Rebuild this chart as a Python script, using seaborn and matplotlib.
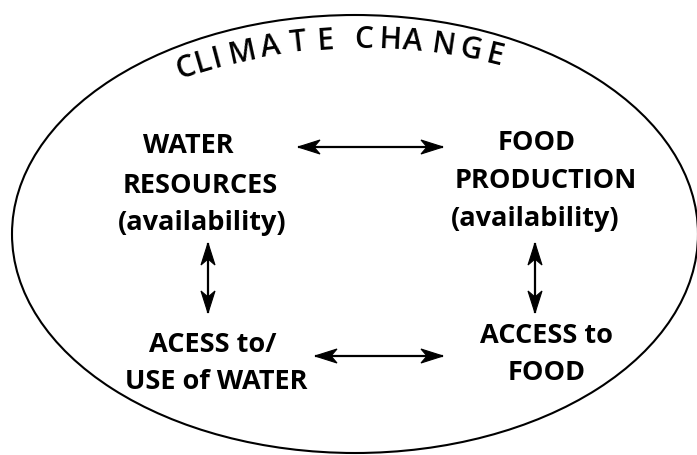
import numpy as np
import matplotlib
matplotlib.use("Agg")
import matplotlib.pyplot as plt
from matplotlib.patches import Ellipse, Polygon
import seaborn as sns

# ---- diagram content ----
title = "CLIMATE CHANGE"
# angle of each title letter around the arc (deg from vertical)
title_angles = [-18.2, -16.4, -14.9, -12.3, -9.3, -6.4, -3.7,
                0.3, 2.9, 5.3, 8.4, 11.2, 13.7]

node_lines = [
    ["WATER", "RESOURCES", "(availability)"],
    ["FOOD", "PRODUCTION", "(availability)"],
    ["ACESS to/", "USE of WATER"],
    ["ACCESS to", "FOOD"],
]

# ---- layout (pixel coords, y down) ----
node_pos = [
    [(188, 153), (200, 193), (202, 230)],
    [(537, 150), (546, 188), (535, 226)],
    [(213, 352), (216, 389)],
    [(546, 343), (547, 380)],
]
arrows = [((298, 147), (443, 147)),
          ((315, 356), (443, 356)),
          ((208, 243), (208, 313)),
          ((535, 243), (535, 313))]

W, H = 697, 455
sns.set_theme(style="white")
plt.rcParams['font.family'] = ['Open Sans', 'DejaVu Sans']

fig = plt.figure(figsize=(W / 100, H / 100), dpi=100)
ax = fig.add_axes([0, 0, 1, 1])
ax.set_xlim(0, W)
ax.set_ylim(H, 0)
ax.axis('off')

# outer ellipse
ax.add_patch(Ellipse((355, 234), 686, 438, fill=False, ec='black', lw=1.5))

# curved title
cx, cy, r = 361, 601, 553
letters = [c for c in title if c != ' ']
for ch, a in zip(letters, title_angles):
    t = np.radians(a)
    ax.text(cx + r * np.sin(t), cy - r * np.cos(t), ch, ha='center', va='baseline',
            rotation=-a, rotation_mode='anchor', fontsize=21.5,
            fontweight='semibold', color='black')

# node labels
for lines, pos in zip(node_lines, node_pos):
    for s, (x, y) in zip(lines, pos):
        ax.text(x, y, s, ha='center', va='baseline', fontsize=19.5,
                fontweight='bold', color='black')


def head(tip, direction, length=22, half=7, notch=6):
    d = np.array(direction, float)
    d /= np.linalg.norm(d)
    n = np.array([-d[1], d[0]])
    tip = np.array(tip, float)
    back = tip - d * length
    pts = [tip, back + n * half, tip - d * (length - notch), back - n * half]
    ax.add_patch(Polygon(pts, closed=True, fc='black', ec='black', lw=0.8))


for p0, p1 in arrows:
    p0 = np.array(p0, float)
    p1 = np.array(p1, float)
    d = p1 - p0
    ax.plot([p0[0], p1[0]], [p0[1], p1[1]], color='black', lw=1.6,
            solid_capstyle='butt')
    head(p0, -d)
    head(p1, d)

fig.savefig('out.png', dpi=100)
